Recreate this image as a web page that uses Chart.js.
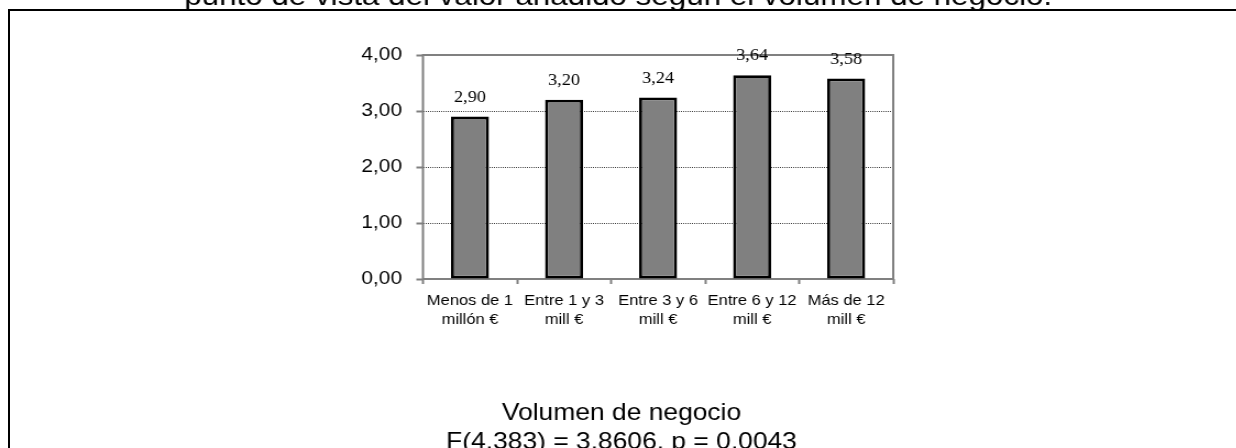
<!DOCTYPE html>
<html>
<head>
<meta charset="utf-8">
<script src="https://cdn.jsdelivr.net/npm/chart.js@4.4.1/dist/chart.umd.min.js"></script>
<style>
  html, body { margin: 0; padding: 0; background: #fff; overflow: hidden; }
  #frame { position: absolute; left: 8px; top: 9px; width: 1300px; height: 500px;
           border-left: 2px solid #000; border-top: 2px solid #000; }
  #wrap { position: absolute; left: 0; top: 0; width: 1124px; height: 448px;
          transform: scaleX(1.1); transform-origin: 0 0; }
</style>
</head>
<body>
<div id="frame"></div>
<div id="wrap"><canvas id="c" width="1124" height="448"></canvas></div>
<script>
// Mean score by business volume
const categories = [
  ['Menos de 1', 'millón €'],
  ['Entre 1 y 3', 'mill €'],
  ['Entre 3 y 6', 'mill €'],
  ['Entre 6 y 12', 'mill €'],
  ['Más de 12', 'mill €']
];
const values = [2.90, 3.20, 3.24, 3.64, 3.58];
const yTickLabels = ['0,00', '1,00', '2,00', '3,00', '4,00'];
const captionText = 'punto de vista del valor añadido según el volumen de negocio.';
const axisTitleLines = ['Volumen de negocio', 'F(4,383) = 3,8606, p = 0,0043'];

const SANS = '"Liberation Sans", Arial, Helvetica, sans-serif';
const SERIF = '"Liberation Serif", "Times New Roman", serif';

const fmt = v => v.toFixed(2).replace('.', ',');

// Gray frame around the plotting area, drawn under the bars
const plotFrame = {
  id: 'plotFrame',
  beforeDatasetsDraw(chart) {
    const { ctx, chartArea: a } = chart;
    ctx.save();
    ctx.strokeStyle = '#808080';
    ctx.lineWidth = 2;
    ctx.strokeRect(a.left, a.top, a.right - a.left, a.bottom - a.top);
    ctx.restore();
  }
};

// Value above each bar
const valueLabels = {
  id: 'valueLabels',
  afterDatasetsDraw(chart) {
    const { ctx } = chart;
    const meta = chart.getDatasetMeta(0);
    ctx.save();
    ctx.font = '16.5px ' + SERIF;
    ctx.fillStyle = '#000';
    ctx.textAlign = 'center';
    ctx.textBaseline = 'alphabetic';
    meta.data.forEach((bar, i) => {
      ctx.fillText(fmt(values[i]), bar.x, bar.y - 15);
    });
    ctx.restore();
  }
};

// Caption line at the top and axis title block at the bottom
const textBlocks = {
  id: 'textBlocks',
  afterDraw(chart) {
    const { ctx } = chart;
    ctx.save();
    ctx.fillStyle = '#000';
    ctx.textAlign = 'center';
    ctx.textBaseline = 'alphabetic';
    ctx.font = '28.5px ' + SANS;
    ctx.fillText(captionText, 562, 5);
    ctx.font = '24px ' + SANS;
    ctx.fillText(axisTitleLines[0], 565, 420);
    ctx.fillText(axisTitleLines[1], 565, 449);
    ctx.restore();
  }
};

Chart.defaults.color = '#000';
Chart.defaults.font.family = SANS;

new Chart(document.getElementById('c'), {
  type: 'bar',
  data: {
    labels: categories,
    datasets: [{
      data: values,
      backgroundColor: '#808080',
      borderColor: '#000',
      borderWidth: 2.8,
      borderSkipped: false,
      categoryPercentage: 1,
      barPercentage: 0.404
    }]
  },
  options: {
    responsive: false,
    animation: false,
    devicePixelRatio: 1,
    layout: { padding: { top: 55, right: 312, left: 0, bottom: 0 } },
    plugins: { legend: { display: false }, tooltip: { enabled: false }, title: { display: false } },
    scales: {
      x: {
        grid: { offset: true, drawOnChartArea: false, tickLength: 5, tickColor: '#808080', tickWidth: 2 },
        border: { display: false },
        ticks: { padding: 7, font: { size: 15, lineHeight: 1.27 }, color: '#000', maxRotation: 0, autoSkip: false },
        afterFit(scale) { scale.height = 169; }
      },
      y: {
        min: 0,
        max: 4,
        ticks: {
          stepSize: 1,
          padding: 13,
          font: { size: 19 },
          color: '#000',
          callback: (v, i) => yTickLabels[i]
        },
        grid: { color: '#404040', lineWidth: 1, tickLength: 6, tickColor: '#808080', tickWidth: 2, tickBorderDash: [] },
        border: { display: false, dash: [1, 1] },
        afterFit(scale) { scale.width = 384.5; }
      }
    }
  },
  plugins: [plotFrame, valueLabels, textBlocks]
});
</script>
</body>
</html>
